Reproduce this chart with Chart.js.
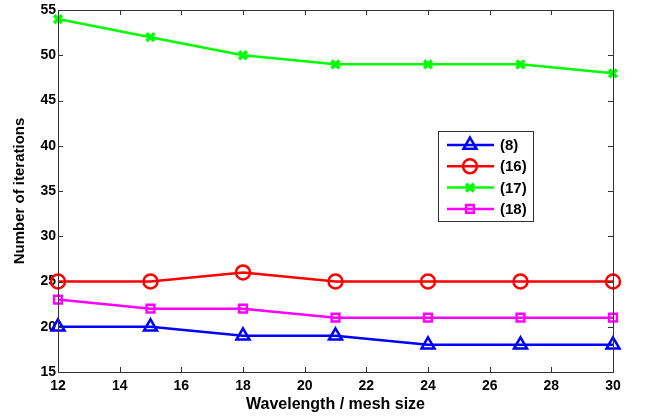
<!DOCTYPE html>
<html>
<head>
<meta charset="utf-8">
<script src="https://cdn.jsdelivr.net/npm/chart.js@4"></script>
<style>
  html, body { margin: 0; padding: 0; background: #fff; }
  #wrap { width: 646px; height: 418px; }
</style>
</head>
<body>
<div id="wrap"><canvas id="myChart"></canvas></div>
<script>
// Wellenlänge / Gitterweite
var wavelength = [12, 15, 18, 21, 24, 27, 30];

// Iterationen je Verfahren
var iter8 = [20, 20, 19, 19, 18, 18, 18];
var iter16 = [25, 25, 26, 25, 25, 25, 25];
var iter17 = [54, 52, 50, 49, 49, 49, 48];
var iter18 = [23, 22, 22, 21, 21, 21, 21];

var seriesNames = ['(8)', '(16)', '(17)', '(18)'];
var seriesColors = ['#0000ff', '#ff0000', '#00ff00', '#ff00ff'];
var seriesMarkers = ['triangle', 'circle', 'crossRot', 'rect'];
var markerSizes = [7.5, 7, 5.5, 5.5];

var font = "'Liberation Sans', Arial, sans-serif";

function toPoints(values) {
    return wavelength.map(function (x, i) { return { x: x, y: values[i] }; });
}

var allSeries = [iter8, iter16, iter17, iter18];
var datasets = allSeries.map(function (values, i) {
    return {
        label: seriesNames[i],
        data: toPoints(values),
        borderColor: seriesColors[i],
        backgroundColor: 'rgba(0,0,0,0)',
        borderWidth: 2.5,
        pointStyle: seriesMarkers[i],
        pointRadius: markerSizes[i],
        pointBorderWidth: i === 2 ? 3.5 : 2.5,
        pointBorderColor: seriesColors[i],
        pointBackgroundColor: 'rgba(0,0,0,0)',
        tension: 0,
        clip: false
    };
});

// Rahmen, Ticks nach innen, Legende im Plot
var boxPlugin = {
    id: 'boxPlugin',
    afterDatasetsDraw: function (chart) {
        var ctx = chart.ctx;
        var a = chart.chartArea;
        var xs = chart.scales.x, ys = chart.scales.y;
        ctx.save();
        ctx.strokeStyle = '#333';
        ctx.lineWidth = 1;
        ctx.strokeRect(a.left + 0.5, a.top + 0.5, a.right - a.left, a.bottom - a.top);
        ctx.beginPath();
        xs.ticks.forEach(function (t) {
            var px = Math.round(xs.getPixelForValue(t.value)) + 0.5;
            ctx.moveTo(px, a.bottom); ctx.lineTo(px, a.bottom - 5);
            ctx.moveTo(px, a.top); ctx.lineTo(px, a.top + 5);
        });
        ys.ticks.forEach(function (t) {
            var py = Math.round(ys.getPixelForValue(t.value)) + 0.5;
            ctx.moveTo(a.left, py); ctx.lineTo(a.left + 5, py);
            ctx.moveTo(a.right, py); ctx.lineTo(a.right - 5, py);
        });
        ctx.stroke();

        // Legende
        var lx = 438, ly = 131, lw = 95, lh = 90;
        ctx.fillStyle = '#fff';
        ctx.fillRect(lx, ly, lw, lh);
        ctx.strokeStyle = '#333';
        ctx.lineWidth = 1;
        ctx.strokeRect(lx + 0.5, ly + 0.5, lw, lh);
        ctx.font = 'bold 15px ' + font;
        ctx.textBaseline = 'middle';
        chart.data.datasets.forEach(function (ds, i) {
            var y = ly + 14 + i * 21.3;
            ctx.strokeStyle = ds.borderColor;
            ctx.lineWidth = 2.5;
            ctx.beginPath();
            ctx.moveTo(lx + 9, y); ctx.lineTo(lx + 56, y);
            ctx.stroke();
            ctx.fillStyle = 'rgba(0,0,0,0)';
            ctx.lineWidth = ds.pointBorderWidth;
            Chart.helpers.drawPoint(ctx, {
                pointStyle: ds.pointStyle,
                radius: ds.pointRadius,
                rotation: 0,
                borderWidth: ds.pointBorderWidth
            }, lx + 32, y);
            ctx.fillStyle = '#000';
            ctx.fillText(ds.label, lx + 62, y + 1);
        });
        ctx.restore();
    }
};

var ctx = document.getElementById('myChart').getContext('2d');
var myChart = new Chart(ctx, {
    type: 'line',
    data: { datasets: datasets },
    options: {
        responsive: true,
        maintainAspectRatio: false,
        animation: false,
        layout: { padding: { top: 0, right: 33, left: 0, bottom: 0 } },
        plugins: { legend: { display: false }, tooltip: { enabled: false } },
        scales: {
            x: {
                type: 'linear',
                min: 12,
                max: 30,
                ticks: {
                    stepSize: 2,
                    color: '#000',
                    padding: 6,
                    maxRotation: 0,
                    font: { family: font, size: 14, weight: 'bold' }
                },
                grid: { display: false, drawTicks: false },
                border: { display: false },
                title: {
                    display: true,
                    text: 'Wavelength / mesh size',
                    color: '#000',
                    padding: { top: 0, bottom: 4 },
                    font: { family: font, size: 16, weight: 'bold' }
                },
                afterFit: function (scale) { scale.height = 46; }
            },
            y: {
                min: 15,
                max: 55,
                ticks: {
                    stepSize: 5,
                    color: '#000',
                    padding: 2,
                    font: { family: font, size: 14, weight: 'bold', lineHeight: 1.1 }
                },
                grid: { display: false, drawTicks: false },
                border: { display: false },
                title: {
                    display: true,
                    text: 'Number of iterations',
                    color: '#000',
                    padding: { top: 11, bottom: 0 },
                    font: { family: font, size: 15, weight: 'bold' }
                },
                afterFit: function (scale) { scale.width = 58; }
            }
        }
    },
    plugins: [boxPlugin]
});
</script>
</body>
</html>
